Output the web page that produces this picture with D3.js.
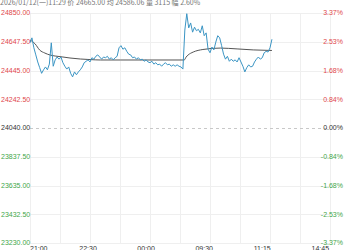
<!DOCTYPE html>
<html>
<head>
<meta charset="utf-8">
<script src="https://cdn.jsdelivr.net/npm/d3@7/dist/d3.min.js"></script>
<style>
  body { margin: 0; background: #fff; }
  svg { display: block; font-family: "Liberation Sans", Arial, sans-serif; }
</style>
</head>
<body>
<svg id="chart" width="350" height="250"></svg>
<script>
// header info
var headerText = "2026/01/12(一)11:29  价 24665.00  均 24586.06  量 3115  幅 2.60%";

// previous close and price axis
var preClose = 24040;
var priceTicks = [24850, 24647.5, 24445, 24242.5, 24040, 23837.5, 23635, 23432.5, 23230];

// trading minutes: night 21:00-01:00 (240), day 09:00-10:15, 10:30-11:30, 13:30-15:00 (225)
var totalMinutes = 465;
var timeLabels = ["21:00", "22:30", "00:00", "09:30", "11:15", "14:45"];
var timeLabelMinutes = [0, 90, 180, 270, 360, 450];

// price every 3 trading minutes, from 21:00
var prices = [
  24640, 24675, 24605, 24555, 24505, 24465, 24425, 24450, 24470, 24450,
  24490, 24640, 24475, 24520, 24540, 24525, 24540, 24500, 24475, 24455,
  24470, 24425, 24400, 24435, 24415, 24435, 24450, 24470, 24500, 24510,
  24520, 24505, 24535, 24525, 24545, 24555, 24540, 24525, 24540, 24535,
  24545, 24525, 24535, 24520, 24535, 24545, 24605, 24620, 24595, 24605,
  24580, 24560, 24555, 24535, 24540, 24525, 24535, 24520, 24525, 24510,
  24520, 24505, 24500, 24510, 24490, 24500, 24485, 24490, 24475, 24490,
  24500, 24485, 24490, 24475, 24485, 24475, 24485, 24475, 24470, 24455,
  // day session from 09:00
  24730, 24845, 24745, 24780, 24715, 24750, 24725, 24735, 24710, 24760,
  24690, 24710, 24595, 24570, 24610, 24590, 24645, 24690, 24675, 24620,
  24560, 24525, 24545, 24510, 24525, 24510, 24520, 24505, 24535, 24505,
  24475, 24435, 24465, 24485, 24470, 24475, 24505, 24525, 24540, 24525,
  24535, 24570, 24580, 24575, 24605, 24665
];

// average price line
var avgMinutes = [0, 8, 15, 23, 31, 39, 51, 62, 78, 93, 109, 140, 186, 239, 242, 245, 253, 268, 295, 321, 346, 375];
var avgPrices = [24660, 24632, 24589, 24568, 24554, 24547, 24540, 24533, 24526, 24522, 24519, 24519, 24519, 24519,
                 24540, 24554, 24575, 24593, 24603, 24597, 24590, 24586];

var svg = d3.select("#chart");
var plotLeft = 30, plotRight = 330, plotTop = 13, plotBottom = 243;

var x = d3.scaleLinear().domain([0, totalMinutes]).range([plotLeft, plotRight]);
var y = d3.scaleLinear().domain([23230, 24850]).range([plotBottom, plotTop]);

var red = "#e0474c", green = "#3fa64a";

// vertical grid, 10 equal divisions
svg.append("g").selectAll("line")
  .data(d3.range(11).map(function(i) { return i * totalMinutes / 10; }))
  .enter().append("line")
  .attr("x1", function(d) { return Math.round(x(d)) + 0.5; })
  .attr("x2", function(d) { return Math.round(x(d)) + 0.5; })
  .attr("y1", plotTop).attr("y2", plotBottom)
  .attr("stroke", "#efefef").attr("stroke-width", 1);

// horizontal grid
svg.append("g").selectAll("line")
  .data(priceTicks)
  .enter().append("line")
  .attr("x1", plotLeft).attr("x2", plotRight)
  .attr("y1", function(d) { return Math.round(y(d)) + 0.5; })
  .attr("y2", function(d) { return Math.round(y(d)) + 0.5; })
  .attr("stroke", function(d) { return d === preClose ? "#c8c8c8" : "#efefef"; })
  .attr("stroke-dasharray", function(d) { return d === preClose ? "3,3" : null; });

function labelColor(d) {
  return d > preClose ? red : (d < preClose ? green : "#333");
}

// left price labels
svg.append("g").selectAll("text")
  .data(priceTicks)
  .enter().append("text")
  .attr("x", 1)
  .attr("y", function(d) { return y(d); })
  .attr("dy", "0.35em")
  .attr("font-size", "7px")
  .attr("fill", labelColor)
  .text(function(d) { return d.toFixed(2); });

// right percent labels
svg.append("g").selectAll("text")
  .data(priceTicks)
  .enter().append("text")
  .attr("x", 343)
  .attr("y", function(d) { return y(d); })
  .attr("dy", "0.35em")
  .attr("text-anchor", "end")
  .attr("font-size", "7px")
  .attr("fill", labelColor)
  .text(function(d) { return ((d - preClose) / preClose * 100).toFixed(2) + "%"; });

// time labels
svg.append("g").selectAll("text")
  .data(timeLabels)
  .enter().append("text")
  .attr("x", function(d, i) { return x(timeLabelMinutes[i]); })
  .attr("y", 251)
  .attr("text-anchor", function(d, i) { return i === 0 ? "start" : "middle"; })
  .attr("font-size", "7px")
  .attr("fill", "#333")
  .text(function(d) { return d; });

// average line
var avgLine = d3.line()
  .x(function(d, i) { return x(avgMinutes[i]); })
  .y(function(d) { return y(d); })
  .curve(d3.curveMonotoneX);

svg.append("path")
  .datum(avgPrices)
  .attr("d", avgLine)
  .attr("fill", "none")
  .attr("stroke", "#555")
  .attr("stroke-width", 1);

// price line
var priceLine = d3.line()
  .x(function(d, i) { return x(i * 3); })
  .y(function(d) { return y(d); });

svg.append("path")
  .datum(prices)
  .attr("d", priceLine)
  .attr("fill", "none")
  .attr("stroke", "#3b95c4")
  .attr("stroke-width", 1);

// header
svg.append("text")
  .attr("x", 0)
  .attr("y", 5)
  .attr("font-size", "7px")
  .attr("font-family", "'Noto Sans CJK SC', 'Liberation Sans', sans-serif")
  .attr("fill", "#777")
  .text(headerText);
</script>
</body>
</html>
